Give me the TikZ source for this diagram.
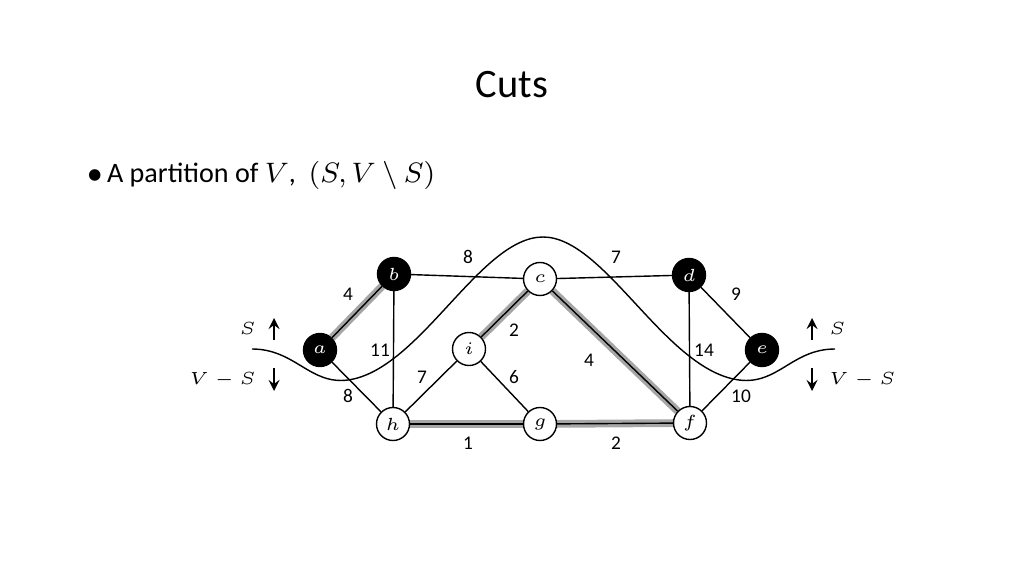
\documentclass[tikz,border=0pt]{standalone}
\usepackage{fontspec}
\setmainfont{Carlito}
\usepackage{amsmath}
\usetikzlibrary{positioning, backgrounds}

\tikzset{
  vtx/.style={circle, draw, thin, fill=white, minimum size=0.33cm, inner sep=0pt, font=\fontsize{5.5}{6}\selectfont\itshape},
  svtx/.style={vtx, fill=black, text=white, font=\fontsize{5.5}{6}\selectfont\bfseries\itshape},
  tree/.style={line width=2.2pt, gray!70},
  wt/.style={font=\fontsize{5.5}{6}\selectfont}
}

\begin{document}
\begin{tikzpicture}[x=0.01cm, y=-0.01cm]
    \useasboundingbox (0,0) rectangle (1024,576);
    \node at (512,85) {\fontsize{11.5}{13}\selectfont Cuts};
    \node[anchor=west] at (75,175) {\fontsize{8}{9}\selectfont $\bullet$\,A partition of $V$, \ $(S, V\setminus S)$};
    % vertices
    \node[svtx] (a) at (320,350) {$a$};
    \node[svtx] (b) at (394,274) {$b$};
    \node[vtx] (c) at (540,279) {$c$};
    \node[svtx] (d) at (689,275) {$d$};
    \node[svtx] (e) at (762,350) {$e$};
    \node[vtx] (f) at (690,423) {$f$};
    \node[vtx] (g) at (540,424) {$g$};
    \node[vtx] (h) at (393,424) {$h$};
    \node[vtx] (i) at (469,349) {$i$};
    \begin{scope}[on background layer]
      % tree edges
      \foreach \u/\v in {a/b, c/i, c/f, h/g, g/f}
        \draw[tree] (\u) -- (\v);
      % edges
      \foreach \u/\v in {a/b, a/h, b/c, b/h, c/d, c/i, c/f, d/e, d/f, e/f, h/i, i/g, h/g, g/f}
        \draw[thin] (\u) -- (\v);
    \end{scope}
    % weights
    \node[wt] at (348,294) {4};
    \node[wt] at (468,257) {8};
    \node[wt] at (616,257) {7};
    \node[wt] at (736,294) {9};
    \node[wt] at (380,350) {11};
    \node[wt] at (514,330) {2};
    \node[wt] at (704,350) {14};
    \node[wt] at (589,360) {4};
    \node[wt] at (422,377) {7};
    \node[wt] at (514,377) {6};
    \node[wt] at (348,396) {8};
    \node[wt] at (741,396) {10};
    \node[wt] at (468,443) {1};
    \node[wt] at (616,443) {2};
    % the cut
    \draw[thin] (252,349) .. controls (295,349) and (310,385) .. (348,380)
      .. controls (420,370) and (480,237) .. (543,237)
      .. controls (605,237) and (665,370) .. (739,380)
      .. controls (778,385) and (792,349) .. (835,349);
    % sides
    \draw[->, >=stealth, thin] (274,340) -- (274,318);
    \draw[->, >=stealth, thin] (274,368) -- (274,391);
    \draw[->, >=stealth, thin] (812,340) -- (812,318);
    \draw[->, >=stealth, thin] (812,368) -- (812,391);
    \node[wt, anchor=east] at (268,328) {$S$};
    \node[wt, anchor=east] at (268,380) {$V-S$};
    \node[wt, anchor=west] at (817,328) {$S$};
    \node[wt, anchor=west] at (817,380) {$V-S$};
\end{tikzpicture}
\end{document}
